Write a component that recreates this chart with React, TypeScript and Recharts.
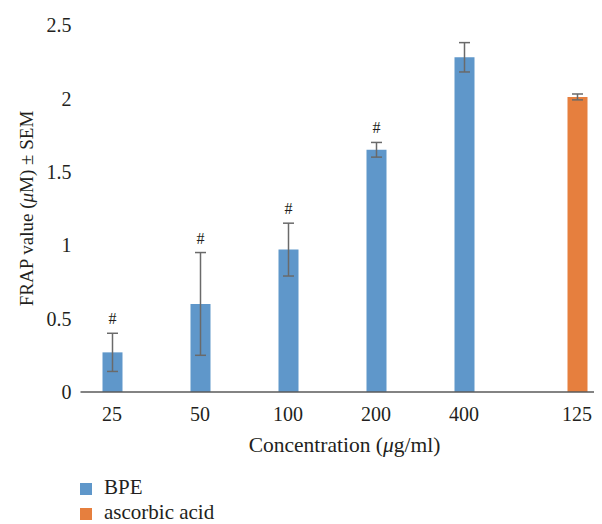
import { BarChart, Bar, XAxis, YAxis, ErrorBar, LabelList, Legend } from 'recharts'

const categories = ['25', '50', '100', '200', '400', '125']
const bpeValues = [0.27, 0.6, 0.97, 1.65, 2.28, null]
const bpeErr = [0.13, 0.35, 0.18, 0.05, 0.1, null]
const ascorbicValues = [null, null, null, null, null, 2.01]
const ascorbicErr = [null, null, null, null, null, 0.02]
const marks = ['#', '#', '#', '#', '', '']
const yTicks = [0, 0.5, 1, 1.5, 2, 2.5]

const data = categories.map((conc, i) => ({
  conc,
  bpe: bpeValues[i],
  bpeErr: bpeErr[i],
  ascorbic: ascorbicValues[i],
  ascorbicErr: ascorbicErr[i],
  mark: marks[i],
}))

const FONT = '"Liberation Serif", "Times New Roman", serif'
const TEXT = '#231f20'
const BLUE = '#5f97ca'
const ORANGE = '#e67f3e'
const BAR_SIZE = 20
const BAR_GAP = 5

// tick sits under the bar that is actually drawn in the category
const ConcTick = (props: any) => {
  const { x, y, payload } = props
  const i = payload.index
  const shift = ascorbicValues[i] != null ? (BAR_SIZE + BAR_GAP) / 2 : -(BAR_SIZE + BAR_GAP) / 2
  return (
    <text
      x={x + shift}
      y={y}
      dy={13.5}
      textAnchor="middle"
      dominantBaseline="central"
      fontFamily={FONT}
      fontSize={20}
      fill={TEXT}
    >
      {payload.value}
    </text>
  )
}

const renderMark = (props: any) => {
  const { x, y, width, height, value, index } = props
  if (!value) return null
  const v = bpeValues[index] as number
  const e = bpeErr[index] as number
  const errTop = y - (height / v) * e
  return (
    <text
      x={x + width / 2}
      y={errTop - 9}
      textAnchor="middle"
      fontFamily={FONT}
      fontSize={16}
      fill={TEXT}
    >
      {value}
    </text>
  )
}

const renderLegend = () => (
  <div style={{ fontFamily: FONT, fontSize: 21, lineHeight: '18px', color: TEXT, marginTop: -2 }}>
    {[
      { name: 'BPE', color: BLUE },
      { name: 'ascorbic acid', color: ORANGE },
    ].map((item) => (
      <div key={item.name} style={{ display: 'flex', alignItems: 'center', height: 25 }}>
        <span
          style={{
            width: 12,
            height: 12,
            background: item.color,
            marginRight: 12,
            position: 'relative',
            top: 2,
          }}
        />
        <span>{item.name}</span>
      </div>
    ))}
  </div>
)

export default function App() {
  return (
    <div style={{ width: 594, height: 516, overflow: 'hidden' }}>
      <BarChart
        width={610}
        height={516}
        data={data}
        margin={{ top: 17, right: 9.5, left: 0, bottom: 0 }}
        barSize={BAR_SIZE}
        barGap={BAR_GAP}
      >
        <XAxis
          dataKey="conc"
          height={84}
          tickLine={false}
          axisLine={{ stroke: '#5a5a5a', strokeWidth: 1.3 }}
          tick={<ConcTick />}
          interval={0}
          label={{
            content: (p: any) => {
              const vb = p.viewBox
              return (
                <text
                  x={vb.x + vb.width / 2}
                  y={vb.y + 53}
                  textAnchor="middle"
                  dominantBaseline="central"
                  fontFamily={FONT}
                  fontSize={21.5}
                  fill={TEXT}
                >
                  Concentration (<tspan fontStyle="italic">μ</tspan>g/ml)
                </text>
              )
            },
          }}
        />
        <YAxis
          width={72.5}
          domain={[0, 2.5]}
          ticks={yTicks}
          axisLine={false}
          tickLine={false}
          tickMargin={3}
          tick={{ fontFamily: FONT, fontSize: 20, fill: TEXT }}
          label={{
            content: (p: any) => {
              const vb = p.viewBox
              const cx = 18
              const cy = vb.y + vb.height / 2
              return (
                <text
                  x={cx}
                  y={cy}
                  transform={`rotate(-90, ${cx}, ${cy})`}
                  textAnchor="middle"
                  dominantBaseline="central"
                  fontFamily={FONT}
                  fontSize={19}
                  fill={TEXT}
                >
                  FRAP value (<tspan fontStyle="italic">μ</tspan>M) ± SEM
                </text>
              )
            },
          }}
        />
        <Legend
          verticalAlign="bottom"
          align="left"
          height={48}
          content={renderLegend}
          wrapperStyle={{ left: 72, height: 48 }}
        />
        <Bar dataKey="bpe" name="BPE" fill={BLUE} isAnimationActive={false}>
          <ErrorBar dataKey="bpeErr" width={5.5} stroke="#6a6a6a" strokeWidth={1.5} />
          <LabelList dataKey="mark" content={renderMark} />
        </Bar>
        <Bar dataKey="ascorbic" name="ascorbic acid" fill={ORANGE} isAnimationActive={false}>
          <ErrorBar dataKey="ascorbicErr" width={5.5} stroke="#6a6a6a" strokeWidth={1.5} />
        </Bar>
      </BarChart>
    </div>
  )
}
